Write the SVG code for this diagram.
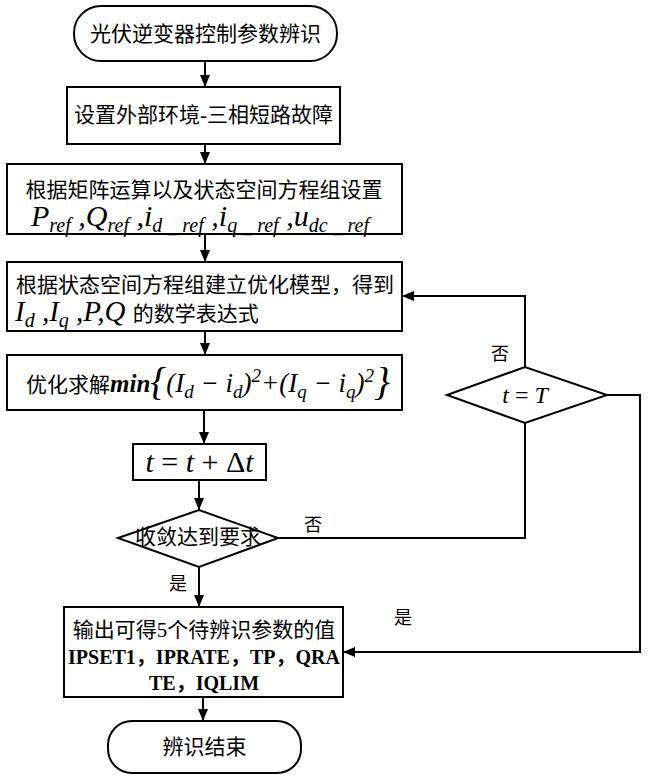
<svg xmlns="http://www.w3.org/2000/svg" width="649" height="779" viewBox="0 0 649 779">
<style>
.box{fill:#fff;stroke:#000;stroke-width:2}
.ln{fill:none;stroke:#000;stroke-width:2}
.cj{font-family:"Liberation Serif","Noto Sans CJK SC",serif;font-size:21px;fill:#000}
.lb{font-family:"Liberation Serif","Noto Sans CJK SC",serif;font-size:18px;fill:#000}
.m{font-family:"Liberation Serif","Times New Roman",serif;font-style:italic;fill:#000}
.bd{font-family:"Liberation Serif","Noto Sans CJK SC",serif;font-weight:bold;font-size:20px;fill:#000}
</style>
<defs>
<marker id="ah" markerUnits="userSpaceOnUse" markerWidth="12" markerHeight="10" refX="12" refY="5" orient="auto">
<path d="M0,0 L12,5 L0,10 z" fill="#000"/>
</marker>
</defs>
<rect width="649" height="779" fill="#fff"/>

<g id="connectors">
<line class="ln" x1="205" y1="62" x2="205" y2="87" marker-end="url(#ah)"/>
<line class="ln" x1="205" y1="144" x2="205" y2="164" marker-end="url(#ah)"/>
<line class="ln" x1="205" y1="234" x2="205" y2="262" marker-end="url(#ah)"/>
<line class="ln" x1="205" y1="331" x2="205" y2="355" marker-end="url(#ah)"/>
<line class="ln" x1="204" y1="410" x2="204" y2="444" marker-end="url(#ah)"/>
<line class="ln" x1="199" y1="480" x2="199" y2="510" marker-end="url(#ah)"/>
<line class="ln" x1="199" y1="567" x2="199" y2="607" marker-end="url(#ah)"/>
<line class="ln" x1="203" y1="697" x2="203" y2="721" marker-end="url(#ah)"/>
<polyline class="ln" points="278,538 525,538 525,423"/>
<polyline class="ln" points="525,367 525,296 402,296" marker-end="url(#ah)"/>
<polyline class="ln" points="607,395 640,395 640,652 343,652" marker-end="url(#ah)"/>
<text class="lb" x="313" y="531" text-anchor="middle">否</text>
<text class="lb" x="178" y="590" text-anchor="middle">是</text>
<text class="lb" x="500" y="360" text-anchor="middle">否</text>
<text class="lb" x="403" y="624" text-anchor="middle">是</text>
</g>

<g id="start">
<rect class="box" x="74" y="6" width="263" height="55" rx="27" ry="27"/>
<text class="cj" x="205.5" y="41" text-anchor="middle">光伏逆变器控制参数辨识</text>
</g>

<g id="env">
<rect class="box" x="67" y="87" width="273" height="57"/>
<text class="cj" x="203.5" y="122" text-anchor="middle">设置外部环境-三相短路故障</text>
</g>

<g id="setref">
<rect class="box" x="7" y="164" width="395" height="70"/>
<text class="cj" x="204" y="197" text-anchor="middle">根据矩阵运算以及状态空间方程组设置</text>
<text class="m" x="200" y="226" font-size="30" text-anchor="middle">P<tspan dy="6" font-size="20">ref</tspan><tspan dy="-6"> ,Q</tspan><tspan dy="6" font-size="20">ref</tspan><tspan dy="-6"> ,i</tspan><tspan dy="6" font-size="20">d _ ref</tspan><tspan dy="-6"> ,i</tspan><tspan dy="6" font-size="20">q _ ref</tspan><tspan dy="-6"> ,u</tspan><tspan dy="6" font-size="20">dc _ ref</tspan></text>
</g>

<g id="model">
<rect class="box" x="7" y="262" width="395" height="69"/>
<text class="cj" x="205" y="292" text-anchor="middle">根据状态空间方程组建立优化模型，得到</text>
<text class="m" x="15" y="321" font-size="29">I<tspan dy="6" font-size="20">d</tspan><tspan dy="-6"> ,I</tspan><tspan dy="6" font-size="20">q</tspan><tspan dy="-6"> ,P,Q </tspan><tspan class="cj" font-style="normal" font-size="21">的数学表达式</tspan></text>
</g>

<g id="optimize">
<rect class="box" x="7" y="355" width="395" height="55"/>
<text x="26" y="392"><tspan class="cj">优化求解</tspan><tspan class="m" font-size="25" font-weight="bold">min</tspan><tspan class="m" font-style="normal" font-size="40" dy="3">{</tspan><tspan class="m" font-size="27" dy="-3">(I</tspan><tspan class="m" font-size="19" dy="6">d</tspan><tspan class="m" font-style="normal" font-size="27" dy="-6"> − </tspan><tspan class="m" font-size="27">i</tspan><tspan class="m" font-size="19" dy="6">d</tspan><tspan class="m" font-size="27" dy="-6">)</tspan><tspan class="m" font-style="normal" font-size="19" dy="-10">2</tspan><tspan class="m" font-style="normal" font-size="27" dy="10">+(I</tspan><tspan class="m" font-size="19" dy="6">q</tspan><tspan class="m" font-style="normal" font-size="27" dy="-6"> − </tspan><tspan class="m" font-size="27">i</tspan><tspan class="m" font-size="19" dy="6">q</tspan><tspan class="m" font-size="27" dy="-6">)</tspan><tspan class="m" font-style="normal" font-size="19" dy="-10">2</tspan><tspan class="m" font-style="normal" font-size="40" dy="13">}</tspan></text>
</g>

<g id="increment">
<rect class="box" x="133" y="444" width="133" height="36"/>
<text x="199.5" y="472" text-anchor="middle" font-family="Liberation Serif, serif" font-size="30"><tspan font-style="italic">t</tspan> = <tspan font-style="italic">t</tspan> + Δ<tspan font-style="italic">t</tspan></text>
</g>

<g id="converge">
<polygon class="box" points="118,538 199,510 278,538 199,567"/>
<text class="cj" x="198" y="544" font-size="17.5" text-anchor="middle">收敛达到要求</text>
</g>

<g id="timecheck">
<polygon class="box" points="447,395 525,367 607,395 525,423"/>
<text class="m" x="525" y="403" font-size="24" text-anchor="middle">t<tspan font-style="normal"> = </tspan>T</text>
</g>

<g id="output">
<rect class="box" x="64" y="607" width="279" height="90"/>
<text class="cj" x="204" y="637" text-anchor="middle">输出可得5个待辨识参数的值</text>
<text class="bd" x="204" y="664" text-anchor="middle">IPSET1，IPRATE，TP，QRA</text>
<text class="bd" x="204" y="690" text-anchor="middle">TE，IQLIM</text>
</g>

<g id="end">
<rect class="box" x="108" y="721" width="193" height="52" rx="24" ry="24"/>
<text class="cj" x="204.5" y="754" text-anchor="middle">辨识结束</text>
</g>
</svg>
